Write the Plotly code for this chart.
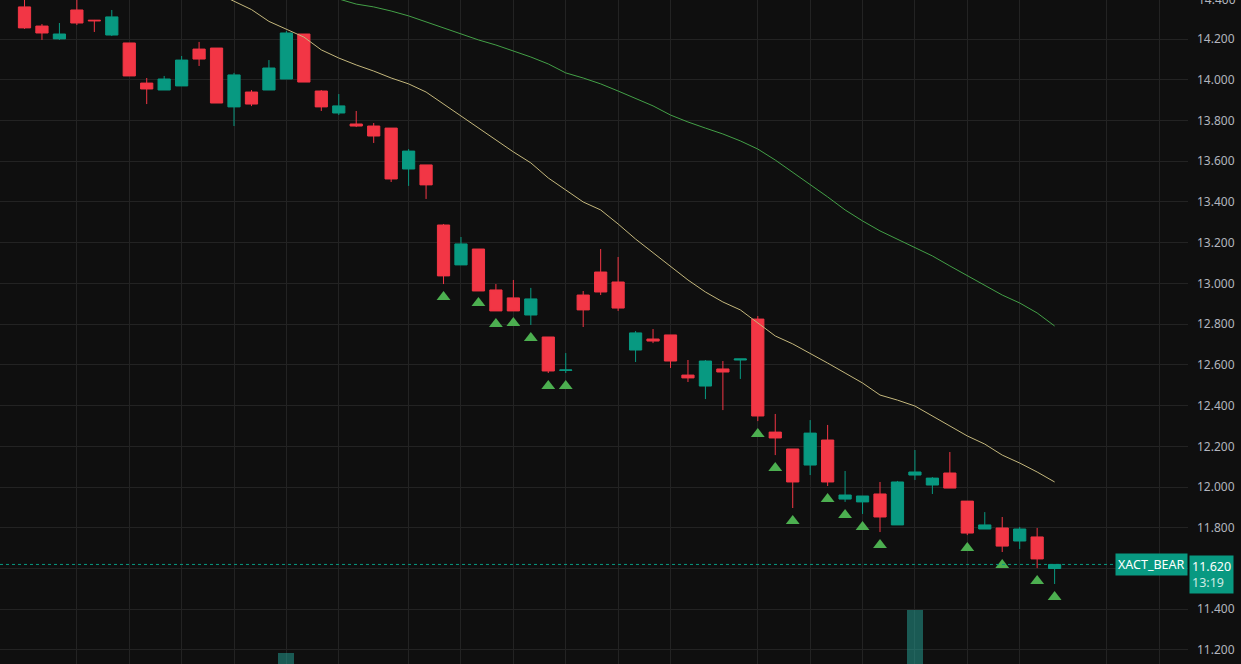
import plotly.graph_objects as go

# ---- data ----
bar_index = list(range(60))

open_ = [14.358, 14.264, 14.201, 14.343, 14.293, 14.220, 14.181, 13.984, 13.950, 13.970,
         14.151, 14.156, 13.867, 13.940, 13.950, 14.004, 14.225, 13.945, 13.837, 13.783,
         13.773, 13.763, 13.562, 13.582, 13.287, 13.091, 13.169, 12.968, 12.929, 12.845,
         12.737, 12.573, 12.943, 13.056, 13.007, 12.673, 12.727, 12.747, 12.550, 12.496,
         12.580, 12.624, 12.825, 12.270, 12.187, 12.108, 12.231, 11.941, 11.927, 11.966,
         11.814, 12.059, 12.010, 12.069, 11.931, 11.794, 11.799, 11.735, 11.755, 11.600]
high = [14.400, 14.274, 14.279, 14.400, 14.294, 14.343, 14.181, 14.009, 14.019, 14.117,
        14.186, 14.156, 14.034, 13.950, 14.097, 14.240, 14.225, 13.950, 13.930, 13.847,
        13.788, 13.763, 13.660, 13.582, 13.292, 13.228, 13.169, 12.997, 13.017, 12.978,
        12.737, 12.658, 12.963, 13.169, 13.130, 12.766, 12.776, 12.747, 12.624, 12.624,
        12.619, 12.629, 12.840, 12.359, 12.187, 12.329, 12.305, 12.079, 11.956, 12.025,
        12.030, 12.182, 12.049, 12.172, 11.931, 11.877, 11.853, 11.804, 11.799, 11.620]
low = [14.250, 14.196, 14.196, 14.269, 14.235, 14.215, 14.019, 13.881, 13.950, 13.970,
       14.068, 13.886, 13.773, 13.871, 13.950, 14.004, 13.989, 13.847, 13.827, 13.768,
       13.690, 13.498, 13.479, 13.415, 12.997, 13.091, 12.963, 12.865, 12.865, 12.796,
       12.560, 12.560, 12.786, 12.943, 12.865, 12.614, 12.707, 12.585, 12.516, 12.432,
       12.378, 12.531, 12.324, 12.157, 11.897, 12.059, 12.005, 11.927, 11.868, 11.779,
       11.814, 12.035, 11.966, 11.995, 11.764, 11.794, 11.681, 11.696, 11.602, 11.524]
close = [14.255, 14.230, 14.225, 14.279, 14.290, 14.309, 14.019, 13.955, 14.004, 14.097,
         14.102, 13.886, 14.024, 13.881, 14.058, 14.230, 13.989, 13.867, 13.872, 13.773,
         13.724, 13.513, 13.650, 13.484, 13.037, 13.194, 12.963, 12.865, 12.865, 12.924,
         12.570, 12.575, 12.870, 12.958, 12.879, 12.757, 12.717, 12.619, 12.536, 12.619,
         12.565, 12.629, 12.349, 12.241, 12.025, 12.265, 12.025, 11.961, 11.956, 11.853,
         12.025, 12.074, 12.044, 11.995, 11.774, 11.814, 11.710, 11.794, 11.647, 11.620]

# fast moving average (khaki line), starts at bar 11
ma_fast_index = list(range(11, 60))
ma_fast = [14.427, 14.387, 14.345, 14.287, 14.250, 14.210, 14.147, 14.107, 14.073, 14.043,
           14.009, 13.980, 13.940, 13.881, 13.822, 13.763, 13.705, 13.646, 13.592, 13.518,
           13.459, 13.400, 13.361, 13.292, 13.218, 13.150, 13.086, 13.017, 12.958, 12.909,
           12.870, 12.806, 12.742, 12.703, 12.658, 12.609, 12.560, 12.511, 12.452, 12.427,
           12.398, 12.349, 12.300, 12.251, 12.211, 12.157, 12.118, 12.074, 12.025]

# slow moving average (green line), starts at bar 18
ma_slow_index = list(range(18, 60))
ma_slow = [14.397, 14.372, 14.358, 14.338, 14.314, 14.284, 14.255, 14.225, 14.196, 14.171,
           14.142, 14.112, 14.078, 14.034, 14.009, 13.980, 13.945, 13.910, 13.872, 13.827,
           13.793, 13.763, 13.734, 13.700, 13.660, 13.606, 13.547, 13.488, 13.425, 13.361,
           13.307, 13.258, 13.218, 13.174, 13.135, 13.086, 13.037, 12.992, 12.943, 12.904,
           12.855, 12.791]

# signal markers (green triangles)
signal_index = [24, 26, 27, 28, 29, 30, 31, 42, 43, 44, 46, 47, 48, 49, 54, 56, 58, 59]
signal_price = [12.933, 12.904, 12.801, 12.806, 12.732, 12.496, 12.496, 12.260, 12.094,
                11.833, 11.941, 11.863, 11.804, 11.715, 11.701, 11.617, 11.539, 11.460]

# volume (only the tallest bars rise into view)
volume_index = [15, 51]
volume = [1.66, 8.13]

time_grid = [3, 6, 9, 12, 15, 18, 22, 25, 28, 31, 34, 37, 42, 45, 48, 51, 54, 57, 62, 65]
price_ticks = [11.2, 11.4, 11.6, 11.8, 12.0, 12.2, 12.4, 12.6, 12.8, 13.0, 13.2, 13.4,
               13.6, 13.8, 14.0, 14.2, 14.4]
symbol = "XACT_BEAR"
last_price = 11.620
countdown = "13:19"

# ---- styling ----
BG = "#0f0f0f"
GRID = "#232323"
UP = "#089981"
DOWN = "#f23645"
AXIS_TXT = "#b2b5be"
FONT = "Noto Sans"

# tick labels (the 11.600 label sits under the last-price tag)
tick_text = ["" if abs(v - 11.6) < 1e-9 else f"{v:.3f}" for v in price_ticks]

fig = go.Figure()

fig.add_trace(go.Bar(
    x=volume_index, y=volume, yaxis="y2", width=0.92,
    marker=dict(color="rgba(38,166,154,0.5)", line=dict(width=0)), showlegend=False, hoverinfo="skip"))

fig.add_trace(go.Candlestick(
    x=bar_index, open=open_, high=high, low=low, close=close,
    increasing=dict(line=dict(color=UP, width=1), fillcolor=UP),
    decreasing=dict(line=dict(color=DOWN, width=1), fillcolor=DOWN),
    whiskerwidth=0, showlegend=False))

fig.add_trace(go.Scatter(
    x=ma_fast_index, y=ma_fast, mode="lines",
    line=dict(color="#c4b77c", width=1), showlegend=False, hoverinfo="skip"))

fig.add_trace(go.Scatter(
    x=ma_slow_index, y=ma_slow, mode="lines",
    line=dict(color="#43a047", width=1), showlegend=False, hoverinfo="skip"))

fig.add_trace(go.Scatter(
    x=signal_index, y=signal_price, mode="markers",
    marker=dict(symbol="triangle-up", size=12, color="#4caf50", line=dict(width=0)),
    showlegend=False, hoverinfo="skip"))

# last price dotted line
fig.add_shape(type="line", xref="paper", x0=0, x1=1, yref="y", y0=last_price, y1=last_price,
              line=dict(color=UP, width=1, dash="dot"), layer="above")

fig.add_annotation(xref="paper", x=1, xanchor="right", yref="y", y=last_price, yanchor="middle",
                   text=symbol, showarrow=False, bgcolor=UP, borderpad=2,
                   font=dict(family=FONT, size=12.5, color="#ffffff"))
fig.add_annotation(xref="paper", x=1, xanchor="left", xshift=1, yref="y", y=last_price,
                   yanchor="top", yshift=9,
                   text=f"{last_price:.3f}<br><span style='color:#cdeae4'>{countdown}</span>",
                   showarrow=False, bgcolor=UP, borderpad=2, align="left",
                   font=dict(family=FONT, size=12.5, color="#ffffff"))
# partially visible top tick label
fig.add_annotation(xref="paper", x=1, xanchor="left", xshift=8, yref="paper", y=1.0, yanchor="middle",
                   yshift=1, text=f"{price_ticks[-1]:.3f}", showarrow=False,
                   font=dict(family=FONT, size=12, color=AXIS_TXT))

fig.update_layout(
    width=1241, height=664,
    margin=dict(l=0, r=53, t=0, b=0),
    paper_bgcolor=BG, plot_bgcolor=BG,
    boxgap=0.3, boxgroupgap=0, bargap=0,
    showlegend=False,
    font=dict(family=FONT, size=12, color=AXIS_TXT),
    xaxis=dict(range=[-1.403, 66.64], tickvals=time_grid, showticklabels=False,
               showgrid=True, gridcolor=GRID, gridwidth=1, zeroline=False,
               rangeslider=dict(visible=False), showline=False, fixedrange=True),
    yaxis=dict(range=[11.131, 14.392], side="right", tickvals=price_ticks, ticktext=tick_text,
               showgrid=True, gridcolor=GRID, gridwidth=1, automargin=False,
               zeroline=False, ticks="", ticklabelstandoff=8,
               tickfont=dict(family=FONT, size=12, color=AXIS_TXT), showline=False),
    yaxis2=dict(range=[0, 100], overlaying="y", visible=False, showgrid=False),
)

fig.write_html("out.html", config={"displayModeBar": False})

# remove the default page margin so the figure sits at the window's top-left corner
with open("out.html", "r", encoding="utf-8") as f:
    html = f.read()
html = html.replace("<head>", "<head><style>html,body{margin:0;padding:0;background:#0f0f0f;overflow:hidden;}</style>", 1)
with open("out.html", "w", encoding="utf-8") as f:
    f.write(html)
